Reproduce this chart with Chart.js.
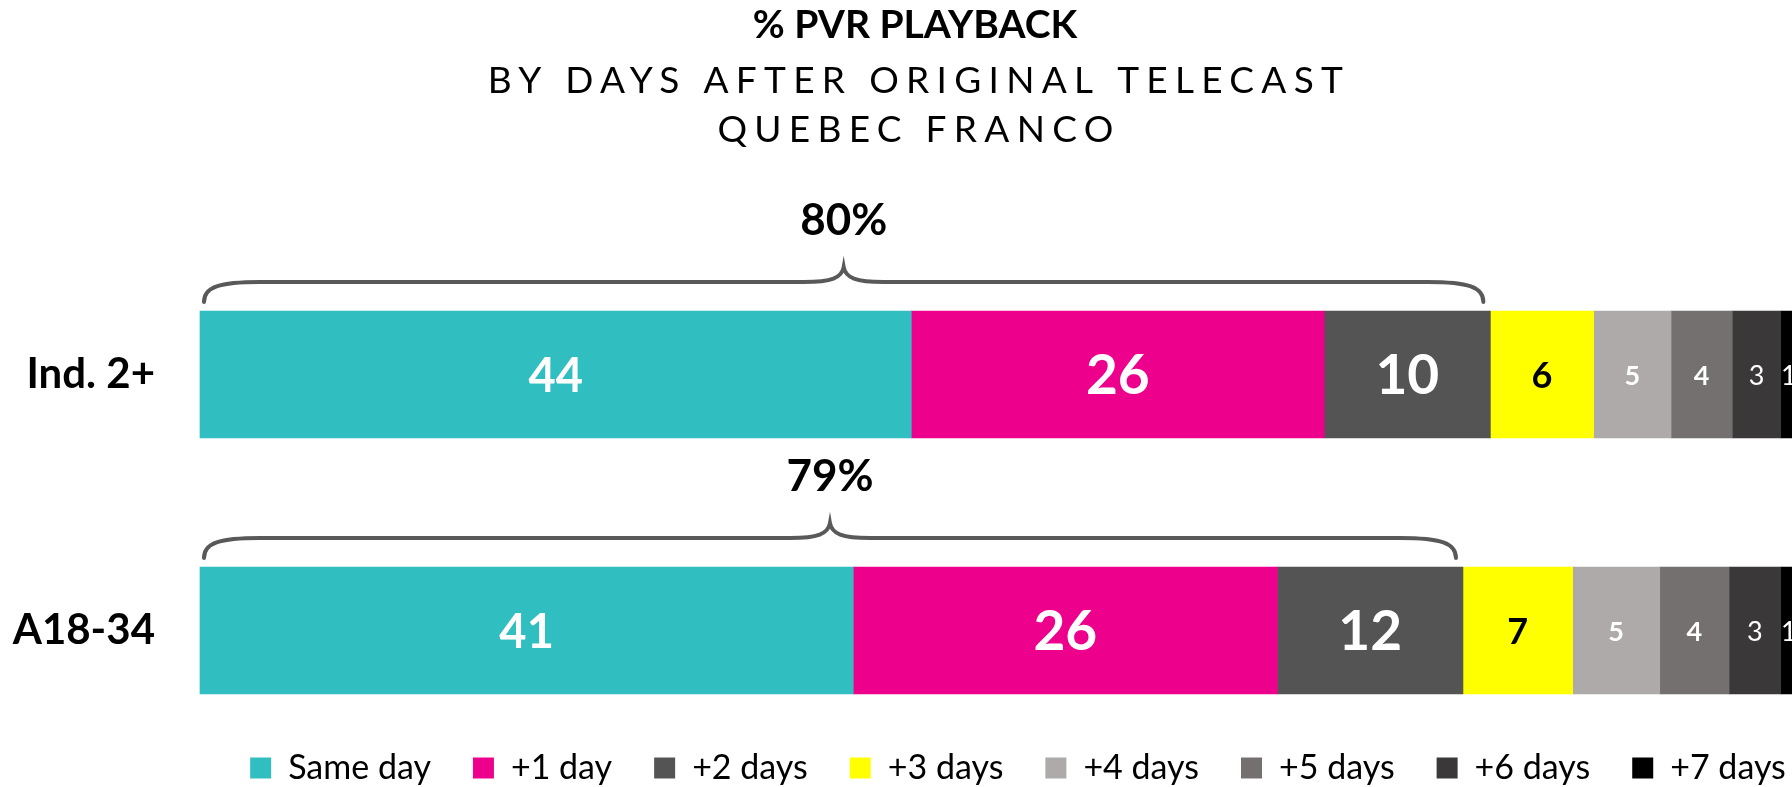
<!DOCTYPE html>
<html>
<head>
<meta charset="utf-8">
<script src="https://cdn.jsdelivr.net/npm/chart.js@4.4.1/dist/chart.umd.min.js"></script>
<style>
  html, body { margin: 0; padding: 0; background: #fff; }
</style>
</head>
<body>
<canvas id="myChart" width="1792" height="787"></canvas>
<script>
const groups = ['Ind. 2+', 'A18-34']
const seriesNames = ['Same day', '+1 day', '+2 days', '+3 days', '+4 days', '+5 days', '+6 days', '+7 days']

// % of PVR playback (labels show the rounded value)
const sameDay = [44.1, 40.5]
const plus1Day = [25.6, 26.3]
const plus2Days = [10.3, 11.5]
const plus3Days = [6.4, 6.8]
const plus4Days = [4.8, 5.4]
const plus5Days = [3.8, 4.3]
const plus6Days = [3.0, 3.2]
const plus7Days = [1.0, 1.0]

// totals printed over the braces (same day .. +2 days)
const braceTotals = [80, 79]

const titleLines = ['% PVR PLAYBACK', 'BY DAYS AFTER ORIGINAL TELECAST', 'QUEBEC FRANCO']

const seriesValues = [sameDay, plus1Day, plus2Days, plus3Days, plus4Days, plus5Days, plus6Days, plus7Days]
const colors = ['#31bec1', '#ec008c', '#545454', '#ffff00', '#adaaa9', '#747070', '#3a3838', '#000000']
const labelColors = ['#fff', '#fff', '#fff', '#000', '#fff', '#fff', '#fff', '#fff']
const labelFonts = ['bold 47px Lato', 'bold 55px Lato', 'bold 55px Lato', 'bold 36px Lato',
  'bold 27px Lato', 'bold 27px Lato', '27px Lato', '27px Lato']

const font = 'Lato'

function drawBrace(ctx, x0, x1, yEnd, yLine, yTip) {
  const mid = (x0 + x1) / 2
  ctx.beginPath()
  ctx.moveTo(x0, yEnd)
  ctx.bezierCurveTo(x0, yLine + 5, x0 + 15, yLine, x0 + 56, yLine)
  ctx.lineTo(mid - 40, yLine)
  ctx.bezierCurveTo(mid - 12, yLine, mid - 2, yLine - 4, mid, yTip)
  ctx.bezierCurveTo(mid + 2, yLine - 4, mid + 12, yLine, mid + 40, yLine)
  ctx.lineTo(x1 - 56, yLine)
  ctx.bezierCurveTo(x1 - 15, yLine, x1, yLine + 5, x1, yEnd)
  ctx.stroke()
}

const overlay = {
  id: 'overlay',
  afterLayout(chart) {
    // nudge the legend: a little lower and to the right, like the original slide
    const legend = chart.legend
    legend.top += 8
    legend.bottom += 8
    legend.left += 122
    legend.right += 122
  },
  afterDatasetsDraw(chart) {
    const ctx = chart.ctx
    ctx.save()
    ctx.textAlign = 'center'
    ctx.textBaseline = 'middle'
    chart.data.datasets.forEach((ds, i) => {
      const meta = chart.getDatasetMeta(i)
      ctx.font = labelFonts[i]
      ctx.fillStyle = labelColors[i]
      meta.data.forEach((bar, j) => {
        ctx.fillText(Math.round(ds.data[j]), (bar.x + bar.base) / 2, bar.y + 2)
      })
    })
    ctx.restore()
  },
  afterDraw(chart) {
    const ctx = chart.ctx
    const cx = 915
    ctx.save()
    ctx.fillStyle = '#000'
    ctx.textAlign = 'center'
    ctx.textBaseline = 'middle'
    ctx.font = `bold 39px ${font}`
    ctx.fillText(titleLines[0], cx, 25)
    ctx.font = `37px ${font}`
    ctx.letterSpacing = '7.3px'
    ctx.fillText(titleLines[1], cx + 4, 81)
    ctx.fillText(titleLines[2], cx + 4, 130)
    ctx.letterSpacing = '0px'

    // braces over the first three segments of each bar
    const xs = chart.scales.x
    const top3 = chart.getDatasetMeta(2).data
    ctx.strokeStyle = '#595959'
    ctx.lineWidth = 4
    ctx.lineCap = 'round'
    top3.forEach((bar, j) => {
      const barTop = bar.y - bar.height / 2
      const x0 = xs.getPixelForValue(0) + 4
      const x1 = bar.x - 7
      drawBrace(ctx, x0, x1, barTop - 9, barTop - 29, barTop - 44)
      ctx.font = `bold 44px ${font}`
      ctx.fillText(braceTotals[j] + '%', (x0 + x1) / 2, barTop - 90)
    })
    ctx.restore()
  }
}

const config = {
  type: 'bar',
  data: {
    labels: groups,
    datasets: seriesNames.map((name, i) => ({
      label: name,
      data: seriesValues[i],
      backgroundColor: colors[i],
      borderWidth: 0,
      barThickness: 127,
      clip: false
    }))
  },
  options: {
    responsive: false,
    animation: false,
    indexAxis: 'y',
    layout: {
      padding: { top: 374.5, left: 0, right: 0, bottom: 0 }
    },
    scales: {
      x: {
        stacked: true,
        min: 0,
        max: 98.7,
        grid: { display: false },
        border: { display: false },
        ticks: { display: false },
        afterFit: s => { s.height = 70.5 }
      },
      y: {
        stacked: true,
        offset: false,
        grid: { display: false, drawTicks: false },
        border: { display: false },
        ticks: {
          color: '#000',
          padding: 45,
          font: { family: font, size: 42, weight: 'bold' }
        },
        afterFit: s => { s.width = 200 }
      }
    },
    plugins: {
      tooltip: { enabled: false },
      title: { display: false },
      legend: {
        position: 'bottom',
        labels: {
          color: '#000',
          boxWidth: 21,
          boxHeight: 21,
          padding: 42,
          font: { family: font, size: 34 }
        }
      }
    }
  },
  plugins: [overlay]
}

const myChart = new Chart(document.getElementById('myChart'), config)
</script>
</body>
</html>
